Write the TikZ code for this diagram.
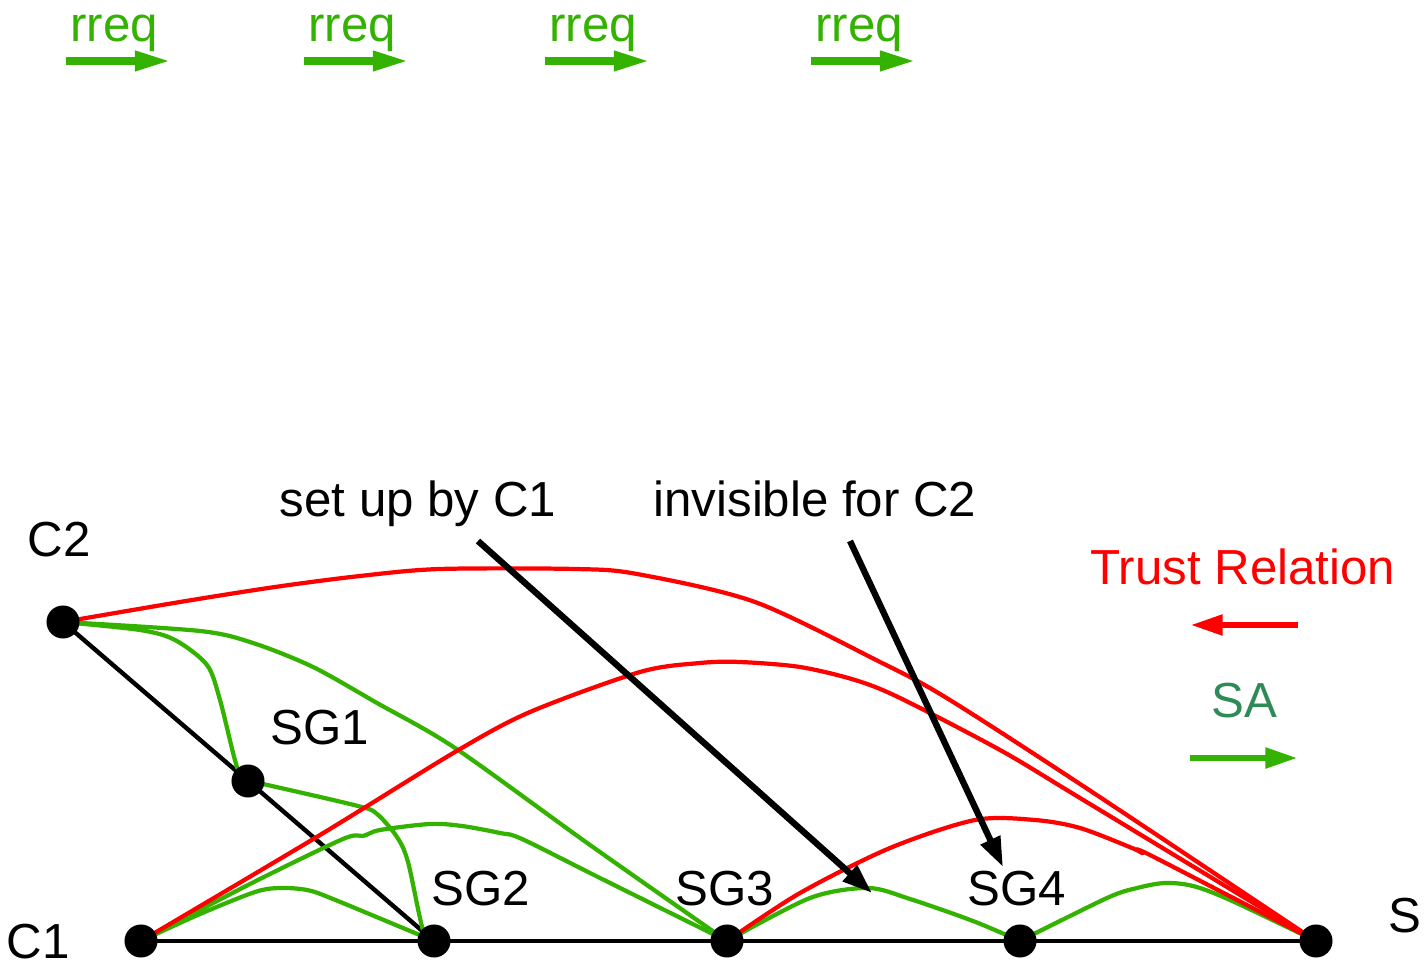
\documentclass[tikz,border=0pt]{standalone}
\usepackage{fontspec}
\setmainfont{Liberation Sans}
\usetikzlibrary{arrows.meta, backgrounds}

\definecolor{sagreen}{RGB}{51,178,0}
\definecolor{seagreen}{RGB}{46,139,87}

\tikzset{
  dot/.style={circle, fill=black, inner sep=0pt, minimum size=0.33cm},
  trust/.style={red, line width=1.2pt},
  sa/.style={sagreen, line width=1.2pt},
  link/.style={black, line width=1.25pt},
  callout/.style={black, line width=1.8pt, -{Triangle[length=8.5pt, width=5.8pt]}},
  lbl/.style={anchor=base, inner sep=0pt, font=\fontsize{14}{16}\selectfont},
}

\begin{document}
\begin{tikzpicture}[x=0.01cm, y=-0.01cm, line join=round]
    \useasboundingbox (0,0) rectangle (1425,965);
    \node[dot] (C2) at (63,622) {};
    \node[dot] (SG1) at (248,781) {};
    \node[dot] (C1) at (141,941) {};
    \node[dot] (SG2) at (434,941) {};
    \node[dot] (SG3) at (727,941) {};
    \node[dot] (SG4) at (1020,941) {};
    \node[dot] (S) at (1316,941) {};

    \begin{scope}[on background layer]
        \draw[link] (C2.center) -- (SG1.center) -- (SG2.center);
        \draw[link] (C1.center) -- (S.center);
        % security associations
        \draw[sa] plot[smooth, tension=0.5] coordinates {(C2.center) (140,630) (175,640) (207,665) (220,700) (237,767) (SG1.center)};
        \draw[sa] plot[smooth, tension=0.5] coordinates {(C2.center) (200,631) (253,643) (313,667) (377,703) (455,748) (590,845) (SG3.center)};
        \draw[sa] plot[smooth, tension=0.5] coordinates {(SG1.center) (263,784) (358,806) (377,814) (397,837) (408,862) (423,930) (SG2.center)};
        \draw[sa] plot[smooth, tension=0.5] coordinates {(C1.center) (200,914) (255,892) (280,888) (307,890) (333,899) (SG2.center)};
        \draw[sa] plot[smooth, tension=0.5] coordinates {(C1.center) (250,884) (343,839) (363,836) (380,830) (430,824) (462,826) (500,833) (522,839) (600,878) (SG3.center)};
        \draw[sa] plot[smooth, tension=0.5] coordinates {(SG3.center) (810,898) (868,888) (910,899) (973,921) (SG4.center)};
        \draw[sa] plot[smooth, tension=0.5] coordinates {(SG4.center) (1107,898) (1137,888) (1165,883) (1193,886) (1230,900) (S.center)};
        % trust relations
        \draw[trust] plot[smooth, tension=0.5] coordinates {(C2.center) (180,602) (275,587) (360,576) (440,569) (575,569) (637,574) (755,602) (880,662) (945,697) (1080,784) (S.center)};
        \draw[trust] plot[smooth, tension=0.5] coordinates {(C1.center) (320,835) (455,752) (530,712) (640,672) (700,663) (740,662) (800,667) (855,680) (900,698) (1000,750) (1080,798) (S.center)};
        \draw[trust] plot[smooth, tension=0.5] coordinates {(SG3.center) (800,893) (890,848) (975,820) (1035,820) (1080,828) (1132,848) (1142,853) (1152,856) (S.center)};
    \end{scope}

    \node[lbl] (lC2) at (59,557) {C2};
    \node[lbl] (lSG1) at (320,745) {SG1};
    \node[lbl] (lC1) at (38,958) {C1};
    \node[lbl] (lSG2) at (481,905) {SG2};
    \node[lbl] (lSG3) at (725,905) {SG3};
    \node[lbl] (lSG4) at (1017,905) {SG4};
    \node[lbl] (lS) at (1405,932) {S};

    \node[lbl] (setup) at (418,517) {set up by C1};
    \node[lbl] (invis) at (815,517) {invisible for C2};
    \coordinate (setupfrom) at (478,541);
    \coordinate (setupto) at (872,893);
    \coordinate (invisfrom) at (850,541);
    \coordinate (invisto) at (1003,867);
    \draw[callout] (setupfrom) -- (setupto);
    \draw[callout] (invisfrom) -- (invisto);

    \node[lbl, red] (trustkey) at (1243,585) {Trust Relation};
    \node[lbl, seagreen] (sakey) at (1244,718) {SA};
    \coordinate (tk1) at (1298,625);
    \coordinate (tk2) at (1191,625);
    \coordinate (sk1) at (1190,758);
    \coordinate (sk2) at (1297,758);
    \draw[red, line width=1.5pt, -{Triangle[length=9pt, width=5.7pt]}] (tk1) -- (tk2);
    \draw[sagreen, line width=1.5pt, -{Triangle[length=9pt, width=5.7pt]}] (sk1) -- (sk2);

    \foreach \x [count=\i] in {66,304,545,811} {
        \node[lbl, sagreen] (rreq\i) at (\x+48,42) {rreq};
        \coordinate (rq\i a) at (\x,61);
        \coordinate (rq\i b) at (\x+104,61);
        \draw[sagreen, line width=2pt, -{Triangle[length=10pt, width=5.4pt]}] (rq\i a) -- (rq\i b);
    }
\end{tikzpicture}
\end{document}
